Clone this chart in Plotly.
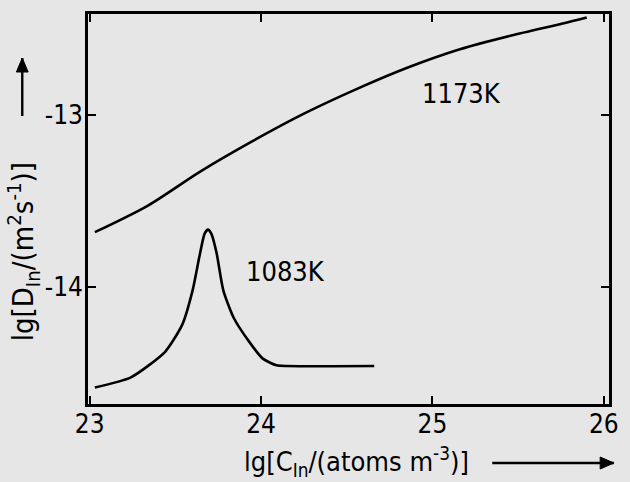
import plotly.graph_objects as go

# ---- data ----
x_1173 = [23.03, 23.34, 23.64, 23.95, 24.25, 24.55, 24.86, 25.16, 25.46, 25.76, 25.90]
y_1173 = [-13.68, -13.525, -13.33, -13.15, -12.99, -12.85, -12.72, -12.615, -12.535, -12.465, -12.43]

x_1083 = [23.03, 23.24, 23.44, 23.54, 23.60, 23.64, 23.67, 23.69, 23.71, 23.74, 23.78,
          23.84, 23.93, 24.01, 24.09, 24.15, 24.66]
y_1083 = [-14.584, -14.525, -14.376, -14.218, -14.02, -13.822, -13.69, -13.665, -13.69, -13.80,
          -14.02, -14.178, -14.317, -14.416, -14.455, -14.459, -14.459]

x_ticks = [23, 24, 25, 26]
x_ticklabels = ["23", "24", "25", "26"]
y_ticks = [-14, -13]
y_ticklabels = ["-14", "-13"]

labels = ["1173K", "1083K"]
label_x = [25.17, 24.14]
label_y = [-12.87, -13.91]

x_title = "lg[C<sub>In</sub>/(atoms m<sup>-3</sup>)]"
y_title = "lg[D<sub>In</sub>/(m<sup>2</sup>s<sup>-1</sup>)]"

# ---- layout geometry ----
W, H = 630, 482
ML, MR, MT, MB = 88, 11, 14, 78
PW, PH = W - ML - MR, H - MT - MB

def px(x):
    return (x - ML) / PW

def py(y):
    return (H - MB - y) / PH

FONT = "DejaVu Sans Condensed, Liberation Sans Narrow, Arial, sans-serif"
BG = "#e6e6e6"

fig = go.Figure()
fig.add_trace(go.Scatter(x=x_1173, y=y_1173, mode="lines",
                         line=dict(color="black", width=2.6, shape="spline", smoothing=0.8),
                         showlegend=False, hoverinfo="skip"))
fig.add_trace(go.Scatter(x=x_1083, y=y_1083, mode="lines",
                         line=dict(color="black", width=2.6, shape="spline", smoothing=0.6),
                         showlegend=False, hoverinfo="skip"))

annotations = []
for t, lx, ly in zip(labels, label_x, label_y):
    annotations.append(dict(text=t, x=lx, y=ly, xref="x", yref="y", showarrow=False,
                            xanchor="center", yanchor="middle",
                            font=dict(family=FONT, size=27, color="black")))

# axis titles
annotations.append(dict(text=y_title, xref="paper", yref="paper", x=px(22), y=py(252),
                        xanchor="center", yanchor="middle", textangle=-90,
                        showarrow=False, font=dict(family=FONT, size=29, color="black")))
annotations.append(dict(text=x_title, xref="paper", yref="paper", x=px(362), y=py(462),
                        xanchor="center", yanchor="middle",
                        showarrow=False, font=dict(family=FONT, size=27, color="black")))

# direction arrows drawn as shapes (shaft + filled head)
def arrow_shapes(x0, y0, x1, y1, head=14, half=6):
    shapes = [dict(type="line", xref="paper", yref="paper",
                   x0=px(x0), y0=py(y0), x1=px(x1), y1=py(y1),
                   line=dict(color="black", width=2.4))]
    if x0 == x1:  # vertical, pointing up
        pts = [(x1, y1), (x1 - half, y1 + head), (x1 + half, y1 + head)]
    else:  # horizontal, pointing right
        pts = [(x1, y1), (x1 - head, y1 - half), (x1 - head, y1 + half)]
    path = "M " + " L ".join(f"{px(a)},{py(b)}" for a, b in pts) + " Z"
    shapes.append(dict(type="path", xref="paper", yref="paper", path=path,
                       fillcolor="black", line=dict(color="black", width=1)))
    return shapes

shapes = arrow_shapes(21, 116, 21, 58) + arrow_shapes(500, 463, 624, 463)

axis_common = dict(showline=True, linecolor="black", linewidth=2.6, mirror="ticks",
                   ticks="inside", ticklen=8, tickwidth=2.2, tickcolor="black",
                   showgrid=False, zeroline=False,
                   tickfont=dict(family=FONT, size=26, color="black"))

fig.update_layout(
    width=W, height=H,
    margin=dict(l=ML, r=MR, t=MT, b=MB, pad=0),
    paper_bgcolor=BG, plot_bgcolor=BG,
    xaxis=dict(range=[22.99, 26.03], tickvals=x_ticks, ticktext=x_ticklabels,
               ticklabelstandoff=-5, **axis_common),
    yaxis=dict(range=[-14.68, -12.41], tickvals=y_ticks, ticktext=y_ticklabels,
               ticklabelstandoff=-3, **axis_common),
    annotations=annotations,
    shapes=shapes,
    showlegend=False,
)

fig.write_html("out.html")
